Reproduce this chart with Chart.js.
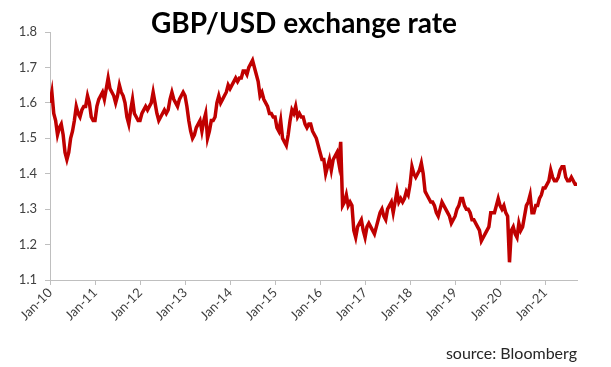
<!DOCTYPE html>
<html>
<head>
<meta charset="utf-8">
<script src="https://cdn.jsdelivr.net/npm/chart.js@4/dist/chart.umd.min.js"></script>
<style>
  html, body { margin: 0; padding: 0; background: #ffffff; }
  #wrap { position: relative; width: 611px; height: 367px; }
</style>
</head>
<body>
<div id="wrap"><canvas id="c" width="611" height="367"></canvas></div>
<script>
// GBP/USD, two readings per month (start / mid-month), Jan-2010 .. Sep-2021
const y2010 = [1.60,1.63, 1.57,1.55, 1.51,1.53, 1.54,1.51, 1.46,1.44, 1.46,1.50, 1.52,1.55, 1.59,1.57, 1.56,1.58, 1.59,1.59, 1.62,1.60, 1.56,1.55];
const y2011 = [1.55,1.59, 1.61,1.62, 1.63,1.61, 1.64,1.67, 1.64,1.63, 1.62,1.60, 1.62,1.65, 1.63,1.62, 1.60,1.56, 1.54,1.58, 1.61,1.57, 1.56,1.55];
const y2012 = [1.55,1.57, 1.58,1.59, 1.58,1.59, 1.60,1.63, 1.60,1.57, 1.55,1.56, 1.57,1.58, 1.57,1.58, 1.61,1.63, 1.61,1.60, 1.59,1.61, 1.62,1.63];
const y2013 = [1.62,1.59, 1.55,1.52, 1.50,1.51, 1.53,1.54, 1.55,1.52, 1.55,1.57, 1.50,1.52, 1.55,1.55, 1.56,1.60, 1.62,1.60, 1.61,1.62, 1.63,1.65];
const y2014 = [1.64,1.65, 1.66,1.67, 1.66,1.67, 1.67,1.69, 1.69,1.68, 1.70,1.71, 1.72,1.70, 1.68,1.66, 1.62,1.63, 1.61,1.60, 1.59,1.57, 1.57,1.56];
const y2015 = [1.56,1.53, 1.52,1.55, 1.50,1.49, 1.48,1.51, 1.55,1.58, 1.57,1.59, 1.56,1.57, 1.56,1.56, 1.54,1.53, 1.54,1.54, 1.52,1.51, 1.50,1.48];
const y2016 = [1.46,1.44, 1.44,1.40, 1.42,1.44, 1.41,1.44, 1.45,1.46, 1.43,1.49, 1.31,1.32, 1.34,1.31, 1.32,1.31, 1.24,1.22, 1.25,1.26, 1.27,1.24];
const y2017 = [1.22,1.25, 1.26,1.25, 1.24,1.23, 1.25,1.27, 1.29,1.30, 1.28,1.27, 1.30,1.31, 1.32,1.29, 1.32,1.35, 1.32,1.33, 1.32,1.33, 1.35,1.34];
const y2018 = [1.37,1.42, 1.40,1.39, 1.40,1.41, 1.43,1.40, 1.35,1.34, 1.33,1.32, 1.32,1.31, 1.29,1.28, 1.30,1.32, 1.31,1.30, 1.29,1.28, 1.26,1.27];
const y2019 = [1.28,1.30, 1.31,1.33, 1.33,1.31, 1.30,1.30, 1.29,1.27, 1.27,1.26, 1.25,1.24, 1.21,1.22, 1.23,1.24, 1.25,1.29, 1.29,1.29, 1.31,1.33];
const y2020 = [1.31,1.30, 1.31,1.29, 1.28,1.15, 1.24,1.25, 1.23,1.22, 1.26,1.24, 1.25,1.28, 1.31,1.32, 1.34,1.29, 1.29,1.31, 1.31,1.33, 1.34,1.36];
const y2021 = [1.36,1.37, 1.38,1.41, 1.39,1.38, 1.38,1.39, 1.41,1.42, 1.42,1.39, 1.38,1.38, 1.39,1.38, 1.37,1.37];

const tickLabels = ['Jan-10','Jan-11','Jan-12','Jan-13','Jan-14','Jan-15','Jan-16','Jan-17','Jan-18','Jan-19','Jan-20','Jan-21'];
const yTicks = [1.1, 1.2, 1.3, 1.4, 1.5, 1.6, 1.7, 1.8];
const titleText = 'GBP/USD exchange rate';
const sourceText = 'source: Bloomberg';

const rates = [].concat(y2010, y2011, y2012, y2013, y2014, y2015, y2016, y2017, y2018, y2019, y2020, y2021);
const points = rates.map((v, i) => ({ x: i / 2, y: v }));   // x in months since Jan-2010
const lastX = (rates.length - 1) / 2;

const FONT = 'Lato, "Open Sans", sans-serif';
const AXIS = '#bfbfbf';

const texts = {
  id: 'texts',
  afterDraw(chart) {
    const ctx = chart.ctx;
    ctx.save();
    ctx.textBaseline = 'alphabetic';
    ctx.fillStyle = '#000000';
    ctx.textAlign = 'center';
    ctx.font = 'bold 28px ' + FONT;
    ctx.fillText(titleText, 304, 33);
    ctx.font = '16px ' + FONT;
    ctx.fillStyle = '#262626';
    ctx.textAlign = 'right';
    ctx.fillText(sourceText, chart.chartArea.right, 359);
    ctx.restore();
  }
};

new Chart(document.getElementById('c'), {
  type: 'line',
  data: {
    datasets: [{
      data: points,
      borderColor: '#c00000',
      borderWidth: 3.5,
      pointRadius: 0,
      tension: 0,
      fill: false
    }]
  },
  options: {
    responsive: false,
    animation: false,
    layout: { padding: { left: 0, right: 34, top: 32, bottom: 0 } },
    plugins: {
      legend: { display: false },
      tooltip: { enabled: false },
      title: { display: false }
    },
    scales: {
      x: {
        type: 'linear',
        min: 0,
        max: lastX,
        border: { color: AXIS, width: 1 },
        grid: { display: true, drawOnChartArea: false, drawTicks: true, tickLength: 5, color: AXIS },
        afterBuildTicks(scale) {
          scale.ticks = tickLabels.map((_, i) => ({ value: i * 12 }));
        },
        afterFit(scale) { scale.height = 87; },
        ticks: {
          autoSkip: false,
          maxRotation: 45,
          minRotation: 45,
          padding: 0,
          color: '#404040',
          font: { family: FONT, size: 13 },
          callback(value) { return tickLabels[Math.round(value / 12)]; }
        }
      },
      y: {
        min: 1.1,
        max: 1.8,
        border: { color: AXIS, width: 1 },
        grid: { display: true, drawOnChartArea: false, drawTicks: true, tickLength: 5, color: AXIS },
        afterBuildTicks(scale) {
          scale.ticks = yTicks.map(v => ({ value: v }));
        },
        afterFit(scale) { scale.width = 50; },
        ticks: {
          padding: 8,
          color: '#404040',
          font: { family: FONT, size: 13 },
          callback(value) { return value.toFixed(1); }
        }
      }
    }
  },
  plugins: [texts]
});
</script>
</body>
</html>
